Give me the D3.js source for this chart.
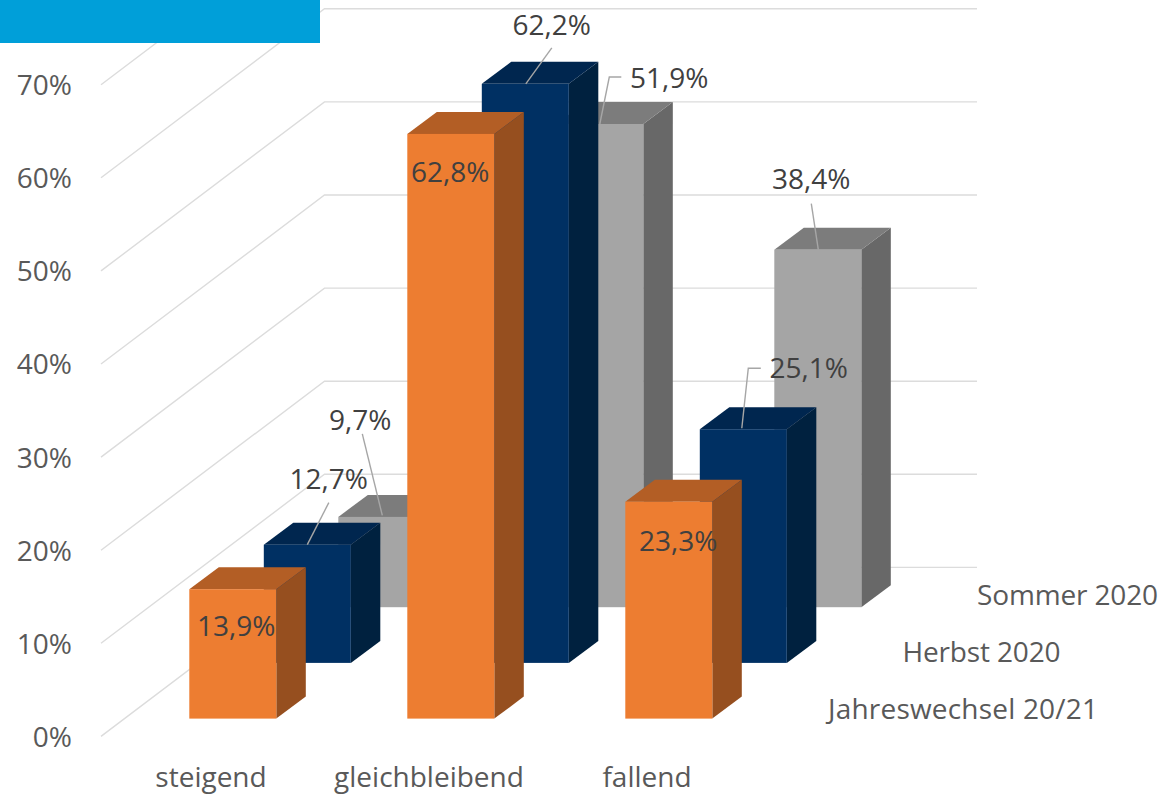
<!DOCTYPE html>
<html><head><meta charset="utf-8">
<style>html,body{margin:0;padding:0;background:#fff;overflow:hidden}svg{display:block;font-family:"Open Sans",sans-serif}svg text{font-family:"Open Sans",sans-serif}</style>
<script src="https://cdn.jsdelivr.net/npm/d3@7"></script></head><body>
<script>
const categories = ["steigend","gleichbleibend","fallend"];
const seriesNames = ["Jahreswechsel 20/21","Herbst 2020","Sommer 2020"];
const jahreswechsel = [13.9,62.8,23.3];
const herbst = [12.7,62.2,25.1];
const sommer = [9.7,51.9,38.4];
const yTicks = [0,10,20,30,40,50,60,70];

const valuesBySeries = [jahreswechsel,herbst,sommer];
const palette = [
  {front:"#ED7D31",top:"#B35E25",side:"#964F1F"},
  {front:"#003063",top:"#00264F",side:"#00213F"},
  {front:"#A5A5A5",top:"#7C7C7C",side:"#686868"}];
const W=1163,H=794;
const svg=d3.select("body").append("svg").attr("width",W).attr("height",H);

// front plane, x position of the first series
const x=d3.scalePoint().domain(categories).range([189.3,625.3]);
const h=d3.scaleLinear().domain([0,70]).range([0,651.7]);
const depth=d3.scalePoint().domain(seriesNames).range([0,2]);
const serX=s=>depth(s)*74.5, serY=s=>-depth(s)*55.7;
const barW=87, sideX=29.5, sideY=22;
const floorY=718.6;
const gridFront=101, gridBack=324.5, gridRight=977, axisBase=736.4, backBase=567.4;

// gridlines
const grid=svg.append("g").attr("fill","none").attr("stroke","#dcdcdc").attr("stroke-width",1.4);
grid.selectAll("path").data(yTicks).join("path")
  .attr("d",t=>{const p=d3.path();
    p.moveTo(gridFront,axisBase-h(t));
    p.lineTo(gridBack,backBase-h(t));
    p.lineTo(gridRight,backBase-h(t));
    return p;});

// bars, back to front
const layers=svg.selectAll("g.ser").data(seriesNames.map((s,i)=>({s,i})).reverse()).join("g").attr("class","ser");
layers.each(function(L){
  const g=d3.select(this),c=palette[L.i],vals=valuesBySeries[L.i];
  categories.forEach((cat,k)=>{
    const x0=x(cat)+serX(L.s),y0=floorY+serY(L.s),yT=y0-h(vals[k]);
    const b=g.append("g");
    b.append("path").attr("fill",c.side).attr("d",
      `M${x0+barW},${yT}L${x0+barW+sideX},${yT-sideY}L${x0+barW+sideX},${y0-sideY}L${x0+barW},${y0}Z`);
    b.append("path").attr("fill",c.top).attr("d",
      `M${x0},${yT}L${x0+sideX},${yT-sideY}L${x0+barW+sideX},${yT-sideY}L${x0+barW},${yT}Z`);
    b.append("rect").attr("fill",c.front).attr("x",x0).attr("y",yT).attr("width",barW).attr("height",h(vals[k]));
  });
});

// leader lines: offsets relative to each bar's top edge
const leaderLayout={
 "1|0":[[43.5,0],[65,-42]],
 "2|0":[[44,-1.5],[24,-83]],
 "1|1":[[44,0],[70,-36]],
 "2|1":[[43.5,0],[53,-47],[65,-47]],
 "1|2":[[42,-1],[48.5,-61],[61,-61]],
 "2|2":[[44,0],[37,-46]]};
const labelLayout={
 "0|0":[47,37],"0|1":[43,38.5],"0|2":[53,39.5],
 "1|0":[65,-65],"1|1":[70,-58.5],"1|2":[109,-61],
 "2|0":[22,-97],"2|1":[113,-45.5],"2|2":[37,-70]};
const fmt=v=>String(v.toFixed(1)).replace(".",",")+"%";
const overlay=svg.append("g");
seriesNames.forEach((s,i)=>categories.forEach((cat,k)=>{
  const x0=x(cat)+serX(s),yT=floorY+serY(s)-h(valuesBySeries[i][k]);
  const lk=leaderLayout[i+"|"+k];
  if(lk) overlay.append("path").attr("fill","none").attr("stroke","#a6a6a6").attr("stroke-width",1.4)
    .attr("d",d3.line()(lk.map(p=>[x0+p[0],yT+p[1]])));
  const o=labelLayout[i+"|"+k];
  overlay.append("text").attr("x",x0+o[0]).attr("y",yT+o[1]).attr("dy","0.35em")
    .attr("text-anchor","middle").attr("font-size",28).attr("fill","#404040").text(fmt(valuesBySeries[i][k]));
}));

// value axis
const yAxisScale=d3.scaleLinear().domain([0,70]).range([axisBase,axisBase-h(70)]);
const yAxis=svg.append("g").attr("transform","translate(72,1)")
  .call(d3.axisLeft(yAxisScale).tickValues(yTicks).tickSize(0).tickPadding(0).tickFormat(d=>d+"%"));
yAxis.attr("font-family",null).attr("font-size",null);
yAxis.select(".domain").remove();
yAxis.selectAll("text").attr("font-size",28).attr("fill","#595959");

// category and series labels
svg.append("g").selectAll("text").data(categories).join("text")
  .attr("x",d=>x(d)+21.7).attr("y",777).attr("dy","0.35em").attr("text-anchor","middle")
  .attr("font-size",28).attr("fill","#595959").text(d=>d);
const seriesLabelWidth={"Jahreswechsel 20/21":270,"Herbst 2020":158,"Sommer 2020":181};
svg.append("g").selectAll("text").data(seriesNames).join("text")
  .attr("x",s=>828+serX(s)).attr("y",s=>709.5-depth(s)*57).attr("dy","0.35em")
  .attr("font-size",28).attr("textLength",s=>seriesLabelWidth[s]).attr("lengthAdjust","spacing")
  .attr("fill","#595959").text(d=>d);

// header band
svg.append("rect").attr("x",0).attr("y",0).attr("width",320).attr("height",43).attr("fill","#009FD9");
</script></body></html>
